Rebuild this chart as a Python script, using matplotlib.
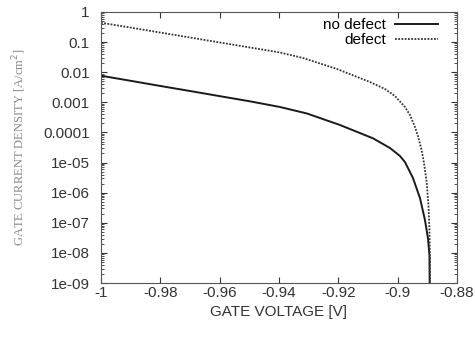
import numpy as np
import matplotlib.pyplot as plt
from matplotlib.ticker import LogLocator, FixedLocator

# values (gate voltage in V, current density in A/cm^2)
v_defect = [-1.0, -0.99022, -0.98011, -0.97, -0.95989, -0.94978, -0.93966,
            -0.93191, -0.92045, -0.90933, -0.90427, -0.9009, -0.89753,
            -0.89584, -0.89416, -0.89315, -0.8919, -0.89112, -0.89021,
            -0.88961, -0.88927, -0.8891, -0.88905]
j_defect = [0.441, 0.3057, 0.2085, 0.1422, 0.097, 0.0662, 0.0452, 0.0297,
            0.0128, 0.00473, 0.00277, 0.00162, 7.0e-4, 3.8e-4, 1.52e-4,
            7.6e-5, 2.61e-5, 9.7e-6, 2.26e-6, 3.9e-7, 5.8e-8, 5.8e-9, 1e-12]

v_nodefect = [-1.0, -0.99022, -0.98011, -0.97, -0.95989, -0.94978, -0.93966,
              -0.93056, -0.91944, -0.90831, -0.90258, -0.89921, -0.89753,
              -0.89483, -0.89247, -0.89079, -0.88978, -0.88927, -0.889]
j_nodefect = [0.00766, 0.00523, 0.00351, 0.00238, 0.0016, 0.00108, 7.0e-4,
              4.26e-4, 1.77e-4, 6.39e-5, 3.04e-5, 1.65e-5, 1.04e-5, 3.07e-6,
              6.65e-7, 1.24e-7, 3.12e-8, 8.5e-9, 1e-12]

xticks = [-1, -0.98, -0.96, -0.94, -0.92, -0.9, -0.88]
xticklabels = ["-1", "-0.98", "-0.96", "-0.94", "-0.92", "-0.9", "-0.88"]
yticks = [1, 0.1, 0.01, 0.001, 0.0001, 1e-5, 1e-6, 1e-7, 1e-8, 1e-9]
yticklabels = ["1", "0.1", "0.01", "0.001", "0.0001", "1e-05", "1e-06",
               "1e-07", "1e-08", "1e-09"]

plt.rcParams['font.family'] = ['Liberation Sans', 'DejaVu Sans']

fig = plt.figure(figsize=(4.75, 3.38), dpi=100)
ax = fig.add_axes([0.2126, 0.1627, 0.7494, 0.8018])

ax.plot(v_nodefect, j_nodefect, color="#1a1a1a", lw=1.4, label="no defect")
ax.plot(v_defect, j_defect, color="#333333", lw=1.3, linestyle=(0, (1, 0.8)),
        label="defect")

ax.set_yscale("log")
ax.set_xlim(-1, -0.88)
ax.set_ylim(1e-9, 1)

ax.xaxis.set_major_locator(FixedLocator(xticks))
ax.set_xticklabels(xticklabels)
ax.yaxis.set_major_locator(FixedLocator(yticks))
ax.set_yticklabels(yticklabels)
ax.yaxis.set_minor_locator(LogLocator(base=10, subs=np.arange(2, 10), numticks=20))
ax.yaxis.set_minor_formatter(plt.NullFormatter())

ax.tick_params(which="both", direction="in", top=True, right=True,
               labelsize=11, colors="#333333")
ax.tick_params(which="major", length=4)
ax.tick_params(which="minor", length=2)
ax.tick_params(axis="x", pad=2)
ax.tick_params(axis="y", pad=8)
for s in ax.spines.values():
    s.set_color("#555555")

ax.set_xlabel("GATE VOLTAGE [V]", fontsize=11, color="#333333", labelpad=4)
ax.set_ylabel("GATE CURRENT DENSITY [A/cm$^2$]", fontsize=9, color="#888888",
              family="Liberation Serif")
ax.yaxis.set_label_coords(-0.205, 0.5)

leg = ax.legend(loc="upper right", bbox_to_anchor=(0.963, 1.0), frameon=False,
                markerfirst=False, fontsize=11, handlelength=2.8,
                borderaxespad=0, labelspacing=0.05, handletextpad=0.6)

fig.savefig("out.png", dpi=100)
